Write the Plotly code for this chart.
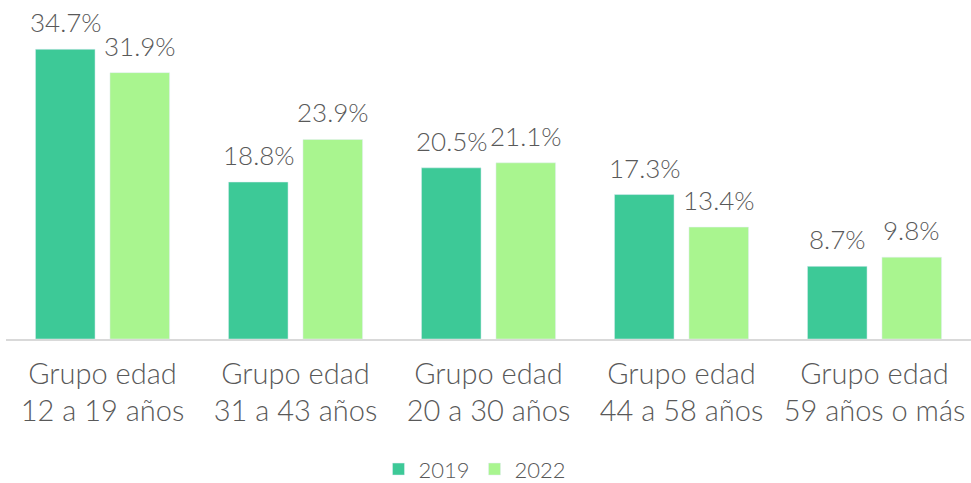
import plotly.graph_objects as go

categories = ["Grupo edad<br>12 a 19 años", "Grupo edad<br>31 a 43 años", "Grupo edad<br>20 a 30 años",
              "Grupo edad<br>44 a 58 años", "Grupo edad<br>59 años o más"]
series_names = ["2019", "2022"]
values_2019 = [34.7, 18.8, 20.5, 17.3, 8.7]
values_2022 = [31.9, 23.9, 21.1, 13.4, 9.8]

FONT = "Lato"
GRAY = "#595959"
COLORS = ["#3DC997", "#A9F58F"]

fig = go.Figure()
for name, vals, col in zip(series_names, [values_2019, values_2022], COLORS):
    fig.add_trace(go.Bar(name=name, x=categories, y=vals, marker_color=col, hoverinfo="skip"))

# data labels
for k, vals in enumerate([values_2019, values_2022]):
    shift = -37 if k == 0 else 37
    for c, v in zip(categories, vals):
        fig.add_annotation(x=c, y=v, xref="x", yref="y", text=f"{v:.1f}%", showarrow=False,
                           xshift=shift, yshift=9, yanchor="bottom",
                           font=dict(size=26, color=GRAY, family=FONT, weight=300))

fig.update_layout(
    width=971, height=483,
    margin=dict(l=6, r=0, t=5, b=144, autoexpand=False),
    plot_bgcolor="white", paper_bgcolor="white",
    barmode="group", bargap=0.228, bargroupgap=0.2,
    font=dict(family=FONT, color=GRAY, size=22),
    showlegend=True,
    legend=dict(orientation="h", x=0.486, xanchor="center", y=-0.39, yanchor="middle",
                font=dict(size=22, color=GRAY, family=FONT, weight=300), itemwidth=30,
                tracegroupgap=0),
)
fig.update_xaxes(showline=True, linecolor="#D9D9D9", linewidth=1.5, ticks="",
                 tickfont=dict(size=29, color=GRAY, family=FONT, weight=300), showgrid=False,
                 automargin=False, ticklabelstandoff=8)
fig.update_yaxes(range=[0, 40], visible=False, showgrid=False, automargin=False)

fig.write_html("out.html", config={"displayModeBar": False},
               post_script="document.body.style.margin='0';document.body.style.overflow='hidden';")
